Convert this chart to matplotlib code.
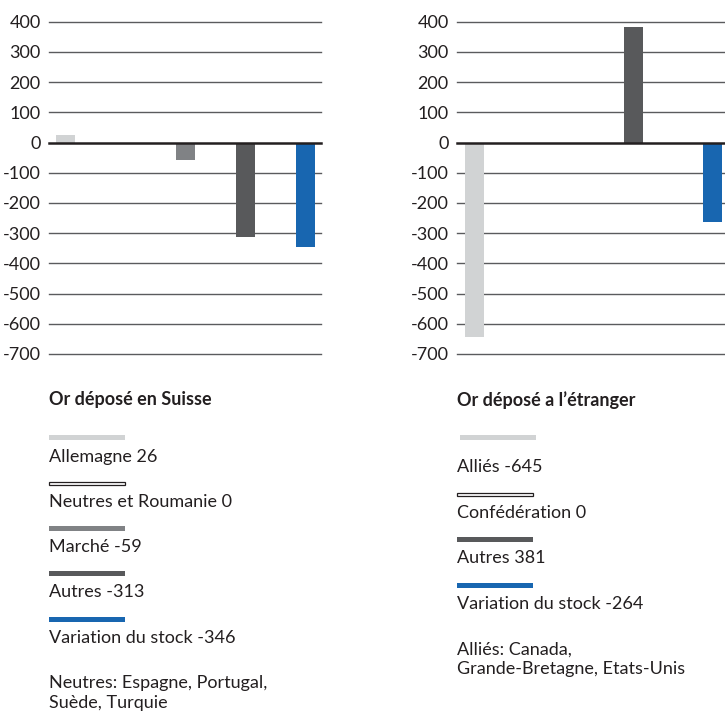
import matplotlib
matplotlib.use("Agg")
import matplotlib.pyplot as plt
from matplotlib.patches import Rectangle

plt.rcParams['font.family'] = ['Lato', 'DejaVu Sans']

# Or déposé en Suisse
suisse_title = "Or déposé en Suisse"
suisse_cats = ["Allemagne", "Neutres et Roumanie", "Marché", "Autres", "Variation du stock"]
suisse_vals = [26, 0, -59, -313, -346]
suisse_note = "Neutres: Espagne, Portugal,\nSuède, Turquie"

# Or déposé a l'étranger
etranger_title = "Or déposé a l\u2019étranger"
etranger_cats = ["Alliés", "Confédération", "Autres", "Variation du stock"]
etranger_vals = [-645, 0, 381, -264]
etranger_note = "Alliés: Canada,\nGrande-Bretagne, Etats-Unis"

yticks = [400, 300, 200, 100, 0, -100, -200, -300, -400, -500, -600, -700]

LIGHT = "#d1d3d4"
WHITE = "#ffffff"
MID = "#808285"
DARK = "#58595b"
BLUE = "#1866b0"
TXT = "#231f20"

suisse_colors = [LIGHT, WHITE, MID, DARK, BLUE]
etranger_colors = [LIGHT, WHITE, DARK, BLUE]

W, H = 725, 716
fig = plt.figure(figsize=(W / 100, H / 100), dpi=100)


def fx(px):
    return px / W


def fy(py):
    return 1 - py / H


def panel(left_px, right_px, xlim, vals, colors, width):
    ax = fig.add_axes([fx(left_px), fy(354), fx(right_px - left_px), (354 - 21.7) / H])
    ax.set_ylim(-700, 400)
    ax.set_xlim(*xlim)
    for t in yticks:
        if t == 0:
            continue
        ax.axhline(t, color="#5a5b5d", lw=1.0, zorder=1, clip_on=False)
    x = list(range(len(vals)))
    ax.bar(x, vals, width=width, color=colors, zorder=2, linewidth=0)
    ax.axhline(0, color="#231f20", lw=1.8, zorder=3, clip_on=False)
    ax.set_yticks(yticks)
    ax.set_yticklabels([str(t) for t in yticks], fontsize=13, color=TXT)
    ax.tick_params(axis="y", length=0, pad=6)
    ax.set_xticks([])
    for s in ax.spines.values():
        s.set_visible(False)
    ax.patch.set_visible(False)
    return ax


panel(49, 321, (-0.275, 4.26), suisse_vals, suisse_colors, 0.317)
panel(457, 725, (-0.22, 3.16), etranger_vals, etranger_colors, 0.24)


def swatch(x0, x1, yc, color, h=5):
    if color == WHITE:
        r = Rectangle((fx(x0), fy(yc + 2)), fx(x1 - x0), 3.5 / H, transform=fig.transFigure,
                      facecolor=WHITE, edgecolor="#231f20", lw=0.9)
    else:
        r = Rectangle((fx(x0), fy(yc + h / 2)), fx(x1 - x0), h / H, transform=fig.transFigure,
                      facecolor=color, edgecolor="none")
    fig.add_artist(r)


def label(x, y, s, bold=False):
    fig.text(fx(x), fy(y), s, fontsize=13, color=TXT, va="center", ha="left",
             fontweight="bold" if bold else "normal", linespacing=1.25)


# left legend
label(49, 400, suisse_title, bold=True)
sw_y = [437, 483, 528, 573, 619]
tx_y = [457, 502, 547, 592, 638]
for c, v, col, sy, ty in zip(suisse_cats, suisse_vals, suisse_colors, sw_y, tx_y):
    swatch(49, 125, sy, col)
    label(49, ty, f"{c} {v}")
label(49, 693, suisse_note)

# right legend
label(457, 400, etranger_title, bold=True)
sw_x = [(460, 536), (457, 533), (457, 533), (457, 533)]
sw_y = [437, 494, 539, 585]
tx_y = [467, 513, 558, 604]
for c, v, col, (a, b), sy, ty in zip(etranger_cats, etranger_vals, etranger_colors, sw_x, sw_y, tx_y):
    swatch(a, b, sy, col)
    label(457, ty, f"{c} {v}")
label(457, 659, etranger_note)

fig.savefig("out.png", dpi=100)
